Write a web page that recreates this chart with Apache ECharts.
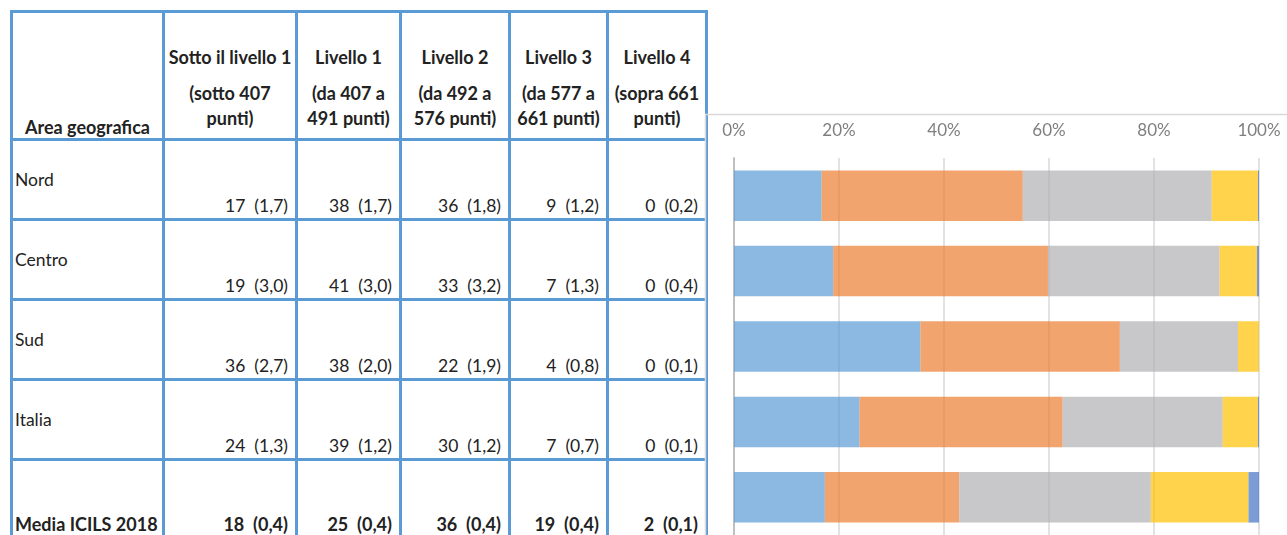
<!DOCTYPE html>
<html>
<head>
<meta charset="utf-8">
<script src="https://cdn.jsdelivr.net/npm/echarts@6/dist/echarts.min.js"></script>
<style>
  html, body { margin: 0; padding: 0; background: #fff; }
  #chart { position: absolute; left: 0; top: 0; width: 1287px; height: 535px; }
  #tbl {
    position: absolute; left: 10px; top: 10px;
    border-collapse: collapse; table-layout: fixed;
    font-family: Lato, "Open Sans", sans-serif; font-size: 17.5px; color: #222;
  }
  #tbl td, #tbl th { border: 3px solid #5b9bd5; padding: 0 7px; overflow: hidden; white-space: nowrap; }
  #tbl th { font-size: 18px; font-weight: bold; text-align: center; vertical-align: bottom; padding: 0 0 7px 0; line-height: 25px; white-space: pre; }
  #tbl th .t { margin-bottom: 11px; }
  #tbl th.area { text-align: left; padding: 0 0 0 12px; }
  #tbl th.area span { position: relative; top: 2px; }
  #tbl td.name { text-align: left; vertical-align: middle; padding-left: 2px; }
  #tbl td.val { text-align: right; vertical-align: bottom; padding-bottom: 2px; white-space: pre; }
  #tbl tr.avg td { font-size: 18px; font-weight: bold; vertical-align: bottom; padding-bottom: 3px; }
</style>
</head>
<body>
<table id="tbl"></table>
<div id="chart"></div>
<script>
// table data
const areas = ['Nord', 'Centro', 'Sud', 'Italia', 'Media ICILS 2018']
const levelTitles = ['Sotto il livello 1', 'Livello 1', 'Livello 2', 'Livello 3', 'Livello 4']
const levelRanges = ['(sotto 407\npunti)', '(da 407 a\n491 punti)', '(da 492 a\n576 punti)', '(da 577 a\n661 punti)', '(sopra 661\npunti)']
const tablePct = [
  [17, 38, 36, 9, 0],
  [19, 41, 33, 7, 0],
  [36, 38, 22, 4, 0],
  [24, 39, 30, 7, 0],
  [18, 25, 36, 19, 2]
]
const tableSE = [
  ['1,7', '1,7', '1,8', '1,2', '0,2'],
  ['3,0', '3,0', '3,2', '1,3', '0,4'],
  ['2,7', '2,0', '1,9', '0,8', '0,1'],
  ['1,3', '1,2', '1,2', '0,7', '0,1'],
  ['0,4', '0,4', '0,4', '0,4', '0,1']
]

// chart data (percent per level)
const below1 = [16.7, 18.9, 35.5, 23.9, 17.3]
const level1 = [38.3, 40.9, 38.0, 38.7, 25.6]
const level2 = [36.0, 32.7, 22.5, 30.5, 36.5]
const level3 = [8.8, 7.1, 4.0, 6.7, 18.6]
const level4 = [0.2, 0.4, 0.0, 0.2, 2.0]
const axisTicks = [0, 20, 40, 60, 80, 100]

// build the table
const colW = [152, 133, 104, 109, 98, 99]
const rowH = [128, 80, 80, 80, 80, 80]
const tbl = document.getElementById('tbl')
tbl.style.width = colW.reduce((a, b) => a + b, 0) + 'px'
let html = '<colgroup>' + colW.map(w => `<col style="width:${w}px">`).join('') + '</colgroup>'
html += `<tr style="height:${rowH[0]}px"><th class="area"><span>Area geografica</span></th>`
levelTitles.forEach((t, i) => {
  html += `<th><div class="t">${t}</div><div class="r">${levelRanges[i]}</div></th>`
})
html += '</tr>'
areas.forEach((a, r) => {
  const cls = r === areas.length - 1 ? ' class="avg"' : ''
  html += `<tr${cls} style="height:${rowH[r + 1]}px"><td class="name">${a}</td>`
  tablePct[r].forEach((v, c) => {
    html += `<td class="val">${v}  (${tableSE[r][c]})</td>`
  })
  html += '</tr>'
})
tbl.innerHTML = html

// chart
const chart = echarts.init(document.getElementById('chart'))
const colors = ['#5b9bd5', '#ed7d31', '#b0b0b4', '#ffc000', '#4472c4']
const seriesData = [below1, level1, level2, level3, level4]

chart.setOption({
  animation: false,
  graphic: [{
    type: 'rect',
    shape: { x: 705.5, y: 114.5, width: 700, height: 500 },
    style: { fill: 'none', stroke: '#d9d9d9', lineWidth: 1.5 },
    z: -1
  }],
  grid: { left: 734, right: 28, top: 158, height: 383 },
  xAxis: {
    type: 'value',
    position: 'top',
    min: 0, max: 100, interval: 20,
    axisLine: { show: false },
    axisTick: { show: false },
    axisLabel: {
      color: '#7f7f7f', fontSize: 17, fontFamily: 'Lato, sans-serif',
      margin: 19, formatter: v => axisTicks.includes(v) ? v + '%' : ''
    },
    splitLine: { show: true, lineStyle: { color: '#d9d9d9', width: 1.5 } }
  },
  yAxis: {
    type: 'category',
    inverse: true,
    data: areas,
    axisLine: { show: true, lineStyle: { color: '#bfbfbf', width: 2 } },
    axisTick: { show: false },
    axisLabel: { show: false }
  },
  series: seriesData.map((d, i) => ({
    name: levelTitles[i],
    type: 'bar',
    stack: 'tot',
    data: d,
    barWidth: '67%',
    itemStyle: { color: colors[i], opacity: 0.7 },
    z: 3
  }))
})
</script>
</body>
</html>
